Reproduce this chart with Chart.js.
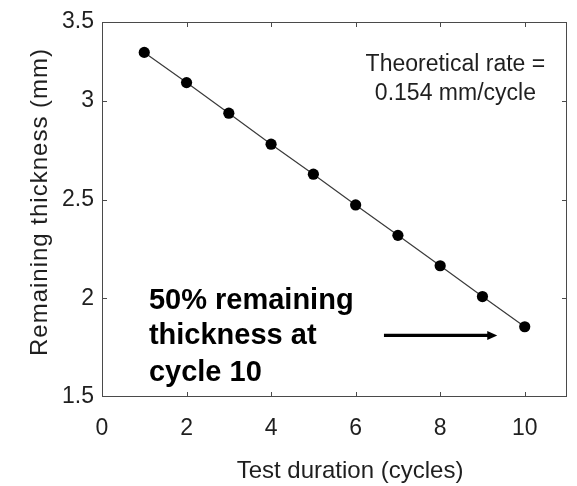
<!DOCTYPE html>
<html><head><meta charset="utf-8">
<script src="https://cdn.jsdelivr.net/npm/chart.js@4/dist/chart.umd.min.js"></script>
<style>html,body{margin:0;padding:0;background:#fff;}#wrap{width:577px;height:486px;}</style>
</head><body><div id="wrap"><canvas id="c" width="577" height="486"></canvas></div>
<script>
// ---- data ----
const cycles = [1, 2, 3, 4, 5, 6, 7, 8, 9, 10];
const thickness = [3.246, 3.093, 2.938, 2.781, 2.629, 2.473, 2.319, 2.165, 2.009, 1.856];
const xTickValues = [0, 2, 4, 6, 8, 10];
const yTickValues = [1.5, 2, 2.5, 3, 3.4];
const yTickLabels = ['1.5', '2', '2.5', '3', '3.5'];
const xTitle = 'Test duration (cycles)';
const yTitle = 'Remaining thickness (mm)';
const rateLines = ['Theoretical rate =', '0.154 mm/cycle'];
const noteLines = ['50% remaining', 'thickness at', 'cycle 10'];

// ---- annotation anchors (data coordinates) ----
const rateX = 8.36, rateY = [3.183, 3.036];
const noteX = 1.11, noteY = [1.988, 1.81, 1.622];
const arrowFrom = {x: 6.67, y: 1.812}, arrowTo = {x: 9.35, y: 1.812};

const FONT = '"Liberation Sans", Arial, sans-serif';
const AX = '#4a4a4a';
const TXT = '#1f1f1f';

const decor = {
  id: 'decor',
  afterDatasetsDraw(chart) {
    const {ctx, chartArea: a, scales: {x, y}} = chart;
    ctx.save();
    // frame
    ctx.strokeStyle = AX; ctx.lineWidth = 1;
    ctx.strokeRect(a.left + 0.5, a.top + 0.5, a.right - a.left - 1, a.bottom - a.top - 1);
    // inward ticks (all four sides)
    const TL = 5;
    ctx.beginPath();
    xTickValues.forEach(v => {
      const px = Math.round(x.getPixelForValue(v)) + 0.5;
      if (px <= a.left + 1 || px >= a.right - 1) return;
      ctx.moveTo(px, a.bottom); ctx.lineTo(px, a.bottom - TL);
      ctx.moveTo(px, a.top); ctx.lineTo(px, a.top + TL);
    });
    yTickValues.forEach(v => {
      const py = Math.round(y.getPixelForValue(v)) + 0.5;
      if (py <= a.top + 1 || py >= a.bottom - 1) return;
      ctx.moveTo(a.left, py); ctx.lineTo(a.left + TL, py);
      ctx.moveTo(a.right, py); ctx.lineTo(a.right - TL, py);
    });
    ctx.stroke();
    // axis titles
    ctx.fillStyle = TXT;
    ctx.font = '24px ' + FONT;
    ctx.textAlign = 'center'; ctx.textBaseline = 'middle';
    ctx.fillText(xTitle, 350, 471);
    ctx.save();
    ctx.translate(40, 202); ctx.rotate(-Math.PI / 2);
    ctx.letterSpacing = '1px';
    ctx.fillText(yTitle, 0, 0);
    ctx.restore();
    // theoretical rate text
    ctx.font = '23px ' + FONT;
    rateLines.forEach((t, i) => ctx.fillText(t, x.getPixelForValue(rateX), y.getPixelForValue(rateY[i])));
    // bold note
    ctx.fillStyle = '#000';
    ctx.font = 'bold 29px ' + FONT;
    ctx.textAlign = 'left';
    noteLines.forEach((t, i) => ctx.fillText(t, x.getPixelForValue(noteX), y.getPixelForValue(noteY[i])));
    // arrow
    const x0 = x.getPixelForValue(arrowFrom.x), y0 = y.getPixelForValue(arrowFrom.y);
    const x1 = x.getPixelForValue(arrowTo.x), y1 = y.getPixelForValue(arrowTo.y);
    const HL = 10, HW = 4.5;
    ctx.strokeStyle = '#000'; ctx.lineWidth = 3.2;
    ctx.beginPath(); ctx.moveTo(x0, y0); ctx.lineTo(x1 - HL + 1, y1); ctx.stroke();
    ctx.beginPath(); ctx.moveTo(x1, y1); ctx.lineTo(x1 - HL, y1 - HW); ctx.lineTo(x1 - HL, y1 + HW); ctx.closePath(); ctx.fill();
    ctx.restore();
  }
};

new Chart(document.getElementById('c'), {
  type: 'scatter',
  data: {
    datasets: [{
      data: cycles.map((c, i) => ({x: c, y: thickness[i]})),
      showLine: true,
      borderColor: '#3a3a3a',
      borderWidth: 1.2,
      pointRadius: 5.6,
      pointBackgroundColor: '#000',
      pointBorderColor: '#000',
      pointBorderWidth: 0
    }]
  },
  options: {
    responsive: false,
    animation: false,
    devicePixelRatio: 1,
    layout: {padding: {top: 22, right: 10, left: 0, bottom: 0}},
    plugins: {legend: {display: false}, tooltip: {enabled: false}},
    scales: {
      x: {
        type: 'linear', min: 0, max: 11,
        afterBuildTicks: s => { s.ticks = xTickValues.map(v => ({value: v})); },
        afterFit: s => { s.height = 89; },
        grid: {display: false, drawTicks: false},
        border: {display: false},
        ticks: {font: {family: FONT, size: 23}, color: TXT, padding: 18, maxRotation: 0, autoSkip: false},
        title: {display: false}
      },
      y: {
        type: 'linear', min: 1.5, max: 3.4,
        afterBuildTicks: s => { s.ticks = yTickValues.map(v => ({value: v})); },
        afterFit: s => { s.width = 102; },
        grid: {display: false, drawTicks: false},
        border: {display: false},
        ticks: {font: {family: FONT, size: 23}, color: TXT, padding: 8, autoSkip: false,
                callback: (v, i) => yTickLabels[i]},
        title: {display: false}
      }
    }
  },
  plugins: [decor]
});
</script></body></html>
